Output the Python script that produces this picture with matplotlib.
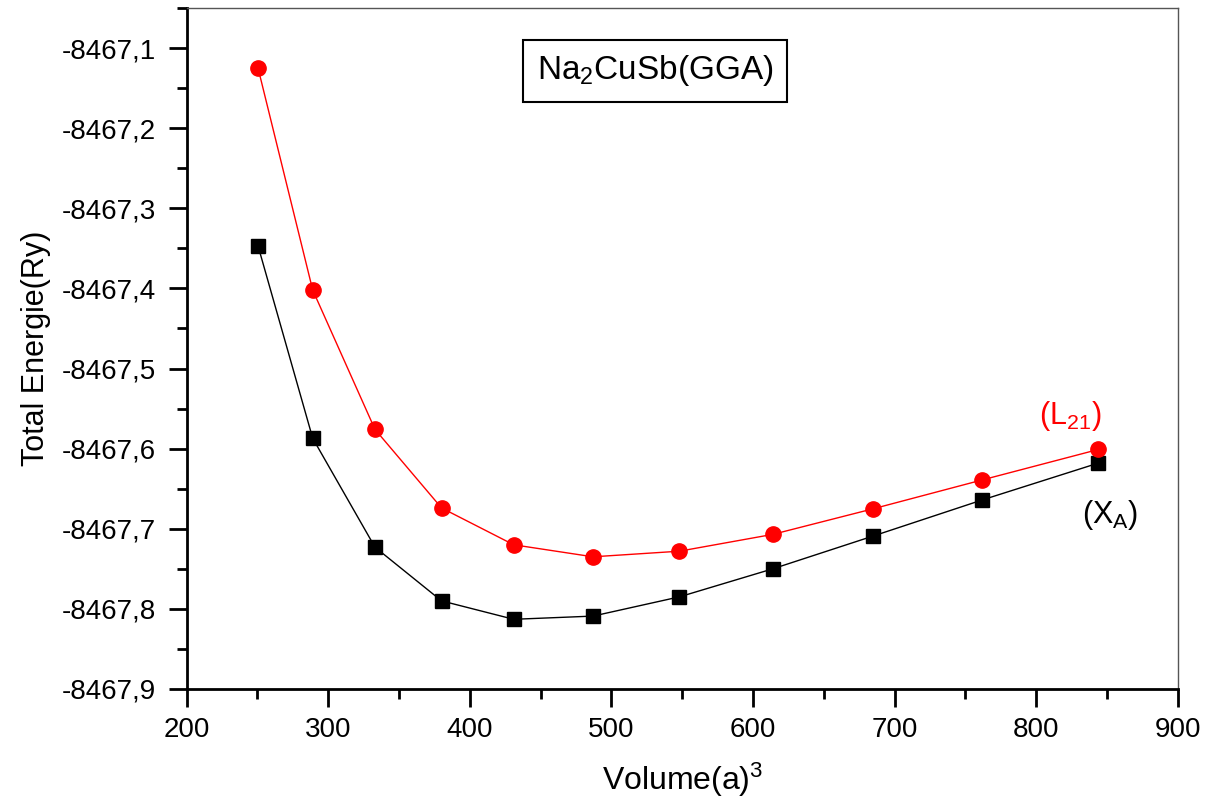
import matplotlib
matplotlib.use("Agg")
import matplotlib.pyplot as plt
from matplotlib.ticker import MultipleLocator, FuncFormatter

plt.rcParams['font.family'] = ['Liberation Sans', 'DejaVu Sans']
plt.rcParams['mathtext.fontset'] = 'custom'
plt.rcParams['mathtext.rm'] = 'Liberation Sans'
plt.rcParams['mathtext.it'] = 'Liberation Sans'

volume = [250.4, 289, 333, 380, 431, 487, 548, 614, 685, 762, 844]
energy_L21 = [-8467.125, -8467.402, -8467.576, -8467.674, -8467.720, -8467.735,
              -8467.728, -8467.707, -8467.675, -8467.639, -8467.601]
energy_XA = [-8467.347, -8467.587, -8467.723, -8467.790, -8467.813, -8467.809,
             -8467.785, -8467.750, -8467.709, -8467.664, -8467.618]

fig = plt.figure(figsize=(12.14, 8.01), dpi=100)
ax = fig.add_axes([186.7/1214, 1-689/801, (1177.7-186.7)/1214, (689-8)/801])

ax.plot(volume, energy_XA, color='black', lw=1, marker='s', ms=9.5, mec='black', mfc='black')
ax.plot(volume, energy_L21, color='red', lw=1, marker='o', ms=11, mec='red', mfc='red')

ax.set_xlim(200, 900)
ax.set_ylim(-8467.9, -8467.05)
ax.xaxis.set_major_locator(MultipleLocator(100))
ax.xaxis.set_minor_locator(MultipleLocator(50))
ax.yaxis.set_major_locator(MultipleLocator(0.1))
ax.yaxis.set_minor_locator(MultipleLocator(0.05))
ax.yaxis.set_major_formatter(FuncFormatter(lambda v, p: f"{v:.1f}".replace('.', ',')))

ax.tick_params(axis='both', which='major', direction='out', length=13, width=2, labelsize=20)
ax.tick_params(axis='y', which='major', pad=9)
ax.tick_params(axis='x', which='major', pad=7)
ax.tick_params(axis='both', which='minor', direction='out', length=7, width=2)
ax.tick_params(top=False, right=False, which='both')
for s in ['left', 'bottom']:
    ax.spines[s].set_linewidth(2)
for s in ['top', 'right']:
    ax.spines[s].set_linewidth(1)
    ax.spines[s].set_color('#555555')

ax.set_xlabel('Volume(a)$^3$', fontsize=23, labelpad=13)
ax.set_ylabel('Total Energie(Ry)', fontsize=22, labelpad=8)

ax.text((655-186.7)/991, 1-(71-8)/681, 'Na$_2$CuSb(GGA)', transform=ax.transAxes,
        fontsize=24, ha='center', va='center',
        bbox=dict(boxstyle='square,pad=0.4', fc='white', ec='black', lw=1.5))

px_per_x = 991/700
px_per_y = 801.5
ax.text(200 + (1070-186.7)/px_per_x, -8467.9 + (689-416)/px_per_y, '(L$_{21}$)',
        color='red', fontsize=22, ha='center', va='center')
ax.text(200 + (1110-186.7)/px_per_x, -8467.9 + (689-515)/px_per_y, '(X$_A$)',
        color='black', fontsize=22, ha='center', va='center')

fig.savefig('out.png', dpi=100)
